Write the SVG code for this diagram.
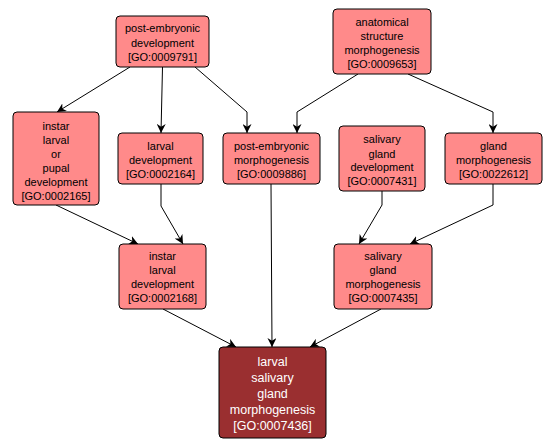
<svg xmlns="http://www.w3.org/2000/svg" width="555" height="448" viewBox="0 0 555 448">
<style>
.n rect{fill:#ff8a8a;stroke:#000;stroke-width:1}
.n text{font-family:"Liberation Sans",Arial,sans-serif;font-size:11px;fill:#000;text-anchor:middle}
.d rect{fill:#9a2f30;stroke:#000;stroke-width:1}
.d text{font-family:"Liberation Sans",Arial,sans-serif;font-size:12.5px;fill:#fff;text-anchor:middle}
.e path{fill:none;stroke:#000;stroke-width:1;marker-end:url(#ah)}
</style>
<defs>
<marker id="ah" viewBox="0 0 10 10" refX="10" refY="5" markerWidth="9" markerHeight="9" markerUnits="userSpaceOnUse" orient="auto">
<path d="M0,0 L10,5 L0,10 L3,5 z" fill="#000"/>
</marker>
</defs>
<rect width="555" height="448" fill="#fff"/>
<g class="e" id="edges">
<path d="M130,67 L57,112"/>
<path d="M162.5,67 L161,133"/>
<path d="M195,67 L247,112 L247,133"/>
<path d="M358,74 L297,112 L297,133"/>
<path d="M408,74 L493,112 L493,133"/>
<path d="M56,205 L138,244"/>
<path d="M161,184 L161,206 L183,244"/>
<path d="M271,184 L272,347"/>
<path d="M382,191 L382,205 L359,244"/>
<path d="M493,184 L493,205 L410,244"/>
<path d="M163,309 L236,347"/>
<path d="M381,309 L310,347"/>
</g>
<g class="n" id="GO0009791">
<rect x="116" y="16" width="93" height="51" rx="4"/>
<text x="162.5" y="32">post-embryonic</text>
<text x="162.5" y="46.5">development</text>
<text x="162.5" y="61">[GO:0009791]</text>
</g>
<g class="n" id="GO0009653">
<rect x="333" y="9" width="98" height="65" rx="4"/>
<text x="382" y="25.5">anatomical</text>
<text x="382" y="40">structure</text>
<text x="382" y="54">morphogenesis</text>
<text x="382" y="68">[GO:0009653]</text>
</g>
<g class="n" id="GO0002165">
<rect x="13" y="112" width="86" height="93" rx="4"/>
<text x="56" y="129.5">instar</text>
<text x="56" y="143.5">larval</text>
<text x="56" y="158">or</text>
<text x="56" y="172">pupal</text>
<text x="56" y="186">development</text>
<text x="56" y="200">[GO:0002165]</text>
</g>
<g class="n" id="GO0002164">
<rect x="118" y="133" width="85" height="51" rx="4"/>
<text x="160.5" y="150">larval</text>
<text x="160.5" y="164">development</text>
<text x="160.5" y="178">[GO:0002164]</text>
</g>
<g class="n" id="GO0009886">
<rect x="223" y="133" width="97" height="51" rx="4"/>
<text x="271.5" y="150">post-embryonic</text>
<text x="271.5" y="164">morphogenesis</text>
<text x="271.5" y="178">[GO:0009886]</text>
</g>
<g class="n" id="GO0007431">
<rect x="339" y="126" width="86" height="65" rx="4"/>
<text x="382" y="143">salivary</text>
<text x="382" y="157.5">gland</text>
<text x="382" y="171">development</text>
<text x="382" y="185">[GO:0007431]</text>
</g>
<g class="n" id="GO0022612">
<rect x="445" y="133" width="97" height="51" rx="4"/>
<text x="493.5" y="150">gland</text>
<text x="493.5" y="164">morphogenesis</text>
<text x="493.5" y="178">[GO:0022612]</text>
</g>
<g class="n" id="GO0002168">
<rect x="119" y="244" width="87" height="65" rx="4"/>
<text x="162.5" y="259.5">instar</text>
<text x="162.5" y="274">larval</text>
<text x="162.5" y="288">development</text>
<text x="162.5" y="302">[GO:0002168]</text>
</g>
<g class="n" id="GO0007435">
<rect x="334" y="244" width="98" height="65" rx="4"/>
<text x="383" y="259.5">salivary</text>
<text x="383" y="274">gland</text>
<text x="383" y="288">morphogenesis</text>
<text x="383" y="302">[GO:0007435]</text>
</g>
<g class="d" id="GO0007436">
<rect x="219" y="347" width="107" height="91" rx="4"/>
<text x="272.5" y="365.5">larval</text>
<text x="272.5" y="382">salivary</text>
<text x="272.5" y="398">gland</text>
<text x="272.5" y="414">morphogenesis</text>
<text x="272.5" y="430">[GO:0007436]</text>
</g>
</svg>
